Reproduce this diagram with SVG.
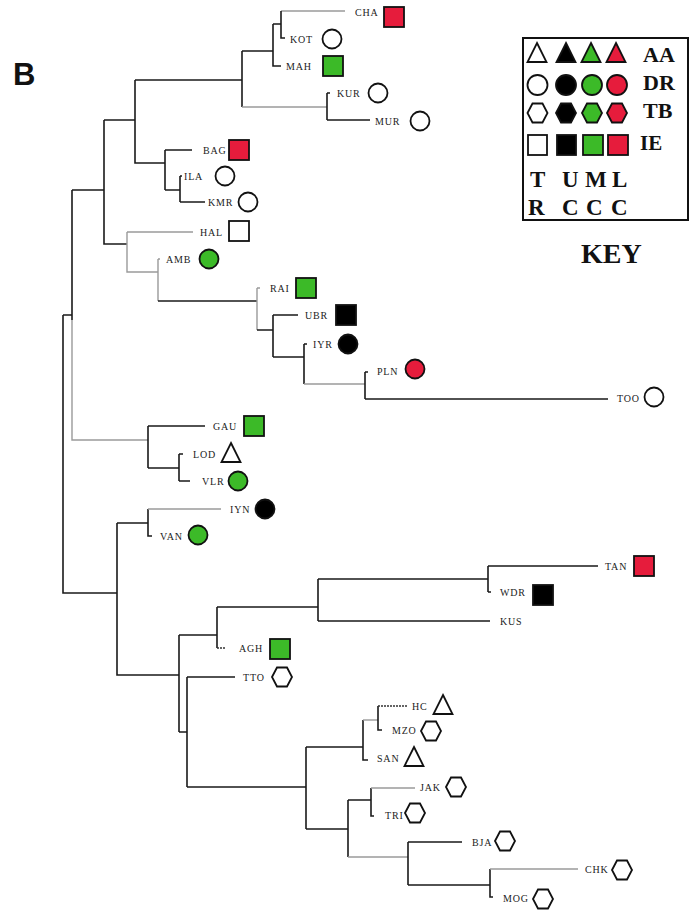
<svg xmlns="http://www.w3.org/2000/svg" xmlns:xlink="http://www.w3.org/1999/xlink" width="691" height="911" viewBox="0 0 691 911">
<style>
.bg{fill:#ffffff}
.ln{fill:none;stroke:#1a1a1a;stroke-width:1.6}
.lt{fill:none;stroke:#9a9a9a;stroke-width:1.4}
.ds{fill:none;stroke:#333;stroke-width:1.4;stroke-dasharray:2 1}
.lbl{font-family:"Liberation Serif","Times New Roman",serif;font-size:10px;letter-spacing:0.8px;fill:#222;dominant-baseline:central}
.mk{stroke:#111;stroke-width:1.8}
.w{fill:#ffffff}
.k{fill:#000000}
.g{fill:#3cba28}
.r{fill:#e61c3c}
.key{font-family:"Liberation Serif","Times New Roman",serif;font-weight:bold;fill:#111}
</style>
<defs>
<path id="hex" d="M-10,0 L-5,-9.5 L5,-9.5 L10,0 L5,9.5 L-5,9.5 Z"/>
<path id="tri" d="M0,-10 L9.5,9 L-9.5,9 Z"/>
<circle id="cir" r="9.5"/>
<rect id="sq" x="-10" y="-10" width="20" height="20"/>
</defs>
<rect class="bg" x="0" y="0" width="691" height="911"/>
<text x="13" y="85" font-family="Liberation Sans,Arial,sans-serif" font-weight="bold" font-size="31" fill="#111">B</text>

<g id="connectors">
<path class="lt" d="M281,11 H345"/>
<path class="ln" d="M281,11 V38 H285 M273,24 H281 M273,24 V66 H281 M242,51 H273 M242,51 V107"/>
<path class="lt" d="M242,107 H327"/>
<path class="ln" d="M327,93 V120 M327,93 H330 M327,120 H370"/>
<path class="ln" d="M135,80 H242 M135,80 V163 H165 M165,150 V190 M165,150 H192 M165,190 H180 M180,176 V202 M180,176 H182 M180,202 H205"/>
<path class="ln" d="M104,120 H135 M104,120 V244 H127"/>
<path class="lt" d="M127,232 H193 M127,232 V272 H158 M158,259 V301 M158,259 H160"/>
<path class="ln" d="M158,301 H257"/>
<path class="lt" d="M257,288 V330 M257,288 H260"/>
<path class="ln" d="M257,330 H273 M273,315 V357 M273,315 H298 M273,357 H304 M304,344 V384 M304,344 H307"/>
<path class="lt" d="M304,384 H365"/>
<path class="ln" d="M365,372 V399 M365,372 H368 M365,399 H608"/>
<path class="ln" d="M72,190 H104 M72,190 V320 M63,315 H72 M63,315 V593 H117"/>
<path class="lt" d="M72,320 V440 H148"/>
<path class="ln" d="M148,426 V468 M148,426 H205 M148,468 H179 M179,454 V481 M179,454 H183 M179,481 H190"/>
<path class="ln" d="M117,523 H148 M148,509 V536 H152"/>
<path class="lt" d="M148,509 H221"/>
<path class="ln" d="M117,523 V675 H179 M179,635 V732 M179,635 H217 M217,607 V648"/>
<path class="ds" d="M217,648 H225"/>
<path class="ln" d="M217,607 H318 M318,579 V621 M318,579 H488 M488,566 V592 M488,566 H598 M488,592 H491 M318,621 H490"/>
<path class="ln" d="M179,732 H187 M187,677 V787 M187,677 H235 M187,787 H306 M306,747 V829 M306,747 H363 M363,720 V760 H368"/>
<path class="lt" d="M363,720 H378"/>
<path class="ln" d="M378,706 V730 H382"/>
<path class="ds" d="M378,706 H408"/>
<path class="ln" d="M306,829 H348 M348,800 V857 M348,800 H371 M371,788 V816 H374"/>
<path class="lt" d="M371,788 H415 M348,857 H408"/>
<path class="ln" d="M408,842 V885 M408,842 H462 M408,885 H490 M490,869 V897 H493"/>
<path class="lt" d="M490,869 H578"/>
</g>

<g id="CHA"><text class="lbl" x="355" y="12">CHA</text><use href="#sq" x="394" y="17" class="mk r"/></g>
<g id="KOT"><text class="lbl" x="290" y="39">KOT</text><use href="#cir" x="332" y="39" class="mk w"/></g>
<g id="MAH"><text class="lbl" x="286" y="66">MAH</text><use href="#sq" x="333" y="66" class="mk g"/></g>
<g id="KUR"><text class="lbl" x="337" y="93">KUR</text><use href="#cir" x="378" y="93" class="mk w"/></g>
<g id="MUR"><text class="lbl" x="375" y="121">MUR</text><use href="#cir" x="420" y="121" class="mk w"/></g>
<g id="BAG"><text class="lbl" x="203" y="150">BAG</text><use href="#sq" x="239" y="150" class="mk r"/></g>
<g id="ILA"><text class="lbl" x="184" y="176">ILA</text><use href="#cir" x="225" y="176" class="mk w"/></g>
<g id="KMR"><text class="lbl" x="208" y="202">KMR</text><use href="#cir" x="248" y="202" class="mk w"/></g>
<g id="HAL"><text class="lbl" x="200" y="232">HAL</text><use href="#sq" x="239" y="231" class="mk w"/></g>
<g id="AMB"><text class="lbl" x="166" y="259">AMB</text><use href="#cir" x="209" y="259" class="mk g"/></g>
<g id="RAI"><text class="lbl" x="270" y="288">RAI</text><use href="#sq" x="306" y="288" class="mk g"/></g>
<g id="UBR"><text class="lbl" x="305" y="315">UBR</text><use href="#sq" x="346" y="315" class="mk k"/></g>
<g id="IYR"><text class="lbl" x="313" y="344">IYR</text><use href="#cir" x="348" y="344" class="mk k"/></g>
<g id="PLN"><text class="lbl" x="377" y="371">PLN</text><use href="#cir" x="415" y="369" class="mk r"/></g>
<g id="TOO"><text class="lbl" x="617" y="398">TOO</text><use href="#cir" x="654" y="397" class="mk w"/></g>
<g id="GAU"><text class="lbl" x="213" y="426">GAU</text><use href="#sq" x="254" y="426" class="mk g"/></g>
<g id="LOD"><text class="lbl" x="193" y="454">LOD</text><use href="#tri" x="231" y="453" class="mk w"/></g>
<g id="VLR"><text class="lbl" x="202" y="481">VLR</text><use href="#cir" x="238" y="481" class="mk g"/></g>
<g id="IYN"><text class="lbl" x="230" y="509">IYN</text><use href="#cir" x="265" y="509" class="mk k"/></g>
<g id="VAN"><text class="lbl" x="160" y="536">VAN</text><use href="#cir" x="198" y="535" class="mk g"/></g>
<g id="TAN"><text class="lbl" x="605" y="566">TAN</text><use href="#sq" x="644" y="566" class="mk r"/></g>
<g id="WDR"><text class="lbl" x="500" y="592">WDR</text><use href="#sq" x="543" y="595" class="mk k"/></g>
<g id="KUS"><text class="lbl" x="500" y="621">KUS</text></g>
<g id="AGH"><text class="lbl" x="239" y="648">AGH</text><use href="#sq" x="280" y="649" class="mk g"/></g>
<g id="TTO"><text class="lbl" x="243" y="677">TTO</text><use href="#hex" x="282" y="677" class="mk w"/></g>
<g id="HC"><text class="lbl" x="412" y="706">HC</text><use href="#tri" x="443" y="705" class="mk w"/></g>
<g id="MZO"><text class="lbl" x="392" y="730">MZO</text><use href="#hex" x="431" y="731" class="mk w"/></g>
<g id="SAN"><text class="lbl" x="377" y="758">SAN</text><use href="#tri" x="414" y="757" class="mk w"/></g>
<g id="JAK"><text class="lbl" x="420" y="787">JAK</text><use href="#hex" x="456" y="787" class="mk w"/></g>
<g id="TRI"><text class="lbl" x="385" y="815">TRI</text><use href="#hex" x="415" y="813" class="mk w"/></g>
<g id="BJA"><text class="lbl" x="472" y="842">BJA</text><use href="#hex" x="505" y="841" class="mk w"/></g>
<g id="CHK"><text class="lbl" x="585" y="869">CHK</text><use href="#hex" x="622" y="870" class="mk w"/></g>
<g id="MOG"><text class="lbl" x="503" y="898">MOG</text><use href="#hex" x="543" y="899" class="mk w"/></g>

<g id="legend">
<rect x="523" y="38" width="165" height="182" fill="#fff" stroke="#111" stroke-width="2"/>
<use href="#tri" x="537" y="53" class="mk w"/>
<use href="#tri" x="566" y="53" class="mk k"/>
<use href="#tri" x="591" y="53" class="mk g"/>
<use href="#tri" x="616" y="53" class="mk r"/>
<text class="key" x="643" y="62" font-size="22">AA</text>
<circle cx="537.5" cy="85" r="10" class="mk w"/>
<circle cx="566" cy="85" r="10" class="mk k"/>
<circle cx="592" cy="85" r="10" class="mk g"/>
<circle cx="617" cy="85" r="10" class="mk r"/>
<text class="key" x="643" y="90" font-size="22">DR</text>
<use href="#hex" x="537.5" y="113" class="mk w"/>
<use href="#hex" x="566" y="113" class="mk k"/>
<use href="#hex" x="592" y="113" class="mk g"/>
<use href="#hex" x="617" y="113" class="mk r"/>
<text class="key" x="643" y="118" font-size="22">TB</text>
<rect x="528" y="135" width="19" height="20" class="mk w"/>
<rect x="557" y="135" width="19" height="20" class="mk k"/>
<rect x="583" y="135" width="20" height="20" class="mk g"/>
<rect x="608" y="135" width="20" height="20" class="mk r"/>
<text class="key" x="640" y="150" font-size="21">IE</text>
<text class="key" x="530" y="187" font-size="23">T</text>
<text class="key" x="562" y="187" font-size="23">U</text>
<text class="key" x="585" y="187" font-size="23">M</text>
<text class="key" x="612" y="187" font-size="23">L</text>
<text class="key" x="528" y="215" font-size="23">R</text>
<text class="key" x="562" y="215" font-size="23">C</text>
<text class="key" x="586" y="215" font-size="23">C</text>
<text class="key" x="611" y="215" font-size="23">C</text>
<text class="key" x="581" y="263" font-size="28">KEY</text>
</g>
</svg>
